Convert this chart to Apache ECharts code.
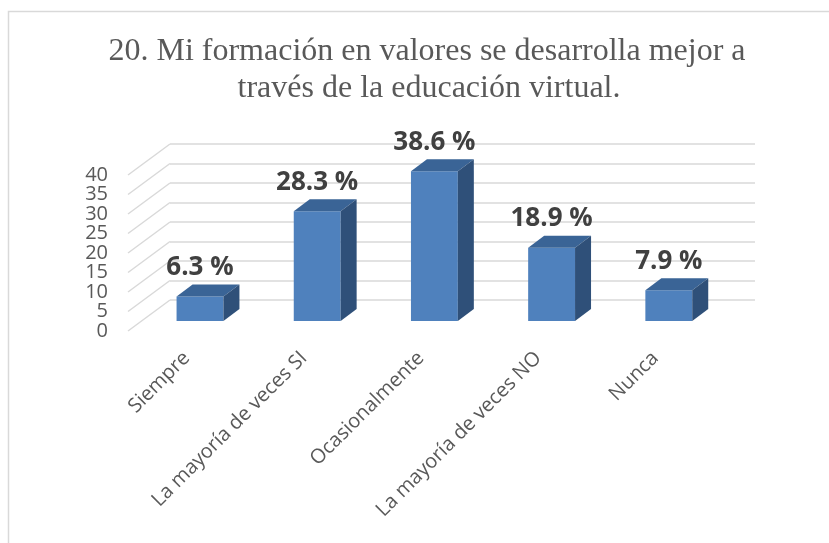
<!DOCTYPE html>
<html>
<head>
<meta charset="utf-8">
<script src="https://cdn.jsdelivr.net/npm/echarts@6/dist/echarts.min.js"></script>
<style>
  html, body { margin: 0; padding: 0; background: #fff; }
  #chart { width: 829px; height: 543px; }
</style>
</head>
<body>
<div id="chart"></div>
<script>
const categories = ['Siempre', 'La mayoría de veces SI', 'Ocasionalmente', 'La mayoría de veces NO', 'Nunca']
const values = [6.3, 28.3, 38.6, 18.9, 7.9]
const yTicks = [0, 5, 10, 15, 20, 25, 30, 35, 40]

const chart = echarts.init(document.getElementById('chart'))

// bar depth offset (3d look)
const DX = 16
const DY = -12

function renderBar(params, api) {
  const idx = api.value(0)
  const top = api.coord([idx, api.value(1)])
  const base = api.coord([idx, 0])
  const w = api.size([1, 0])[0] * 0.4
  const x0 = top[0] - w / 2
  const x1 = top[0] + w / 2
  const yt = top[1]
  const yb = base[1]
  return {
    type: 'group',
    children: [
      { type: 'rect', shape: { x: x0, y: yt, width: w, height: yb - yt }, style: { fill: '#4f81bd' } },
      { type: 'polygon', shape: { points: [[x0, yt], [x0 + DX, yt + DY], [x1 + DX, yt + DY], [x1, yt]] }, style: { fill: '#3a6496' } },
      { type: 'polygon', shape: { points: [[x1, yt], [x1 + DX, yt + DY], [x1 + DX, yb + DY], [x1, yb]] }, style: { fill: '#2f5079' } },
      {
        type: 'text',
        style: {
          x: top[0], y: yt + DY - 4,
          text: api.value(1).toFixed(1) + ' %',
          align: 'center', verticalAlign: 'bottom',
          font: 'bold 26px "Open Sans"', fill: '#404040'
        }
      }
    ]
  }
}

// slanted lines on the left side wall + tick labels at their front end
function renderSide(params, api) {
  const v = api.value(0)
  const p = api.coord([0, v])
  const fx = p[0] - 42
  const fy = p[1] + 31
  return {
    type: 'group',
    children: [
      { type: 'line', shape: { x1: p[0], y1: p[1], x2: fx, y2: fy }, style: { stroke: '#d9d9d9', lineWidth: 1.5 } },
      {
        type: 'text',
        style: {
          x: fx - 20, y: fy, text: String(v),
          align: 'right', verticalAlign: 'middle',
          font: '20px "Open Sans"', fill: '#595959'
        }
      }
    ]
  }
}

chart.setOption({
  animation: false,
  graphic: [
    {
      type: 'rect', silent: true,
      shape: { x: 8.5, y: 11.5, width: 900, height: 600 },
      style: { fill: 'none', stroke: '#d9d9d9', lineWidth: 1.5 }
    },
    {
      type: 'text', silent: true, x: 427, y: 52,
      style: {
        text: '20. Mi formación en valores se desarrolla mejor a',
        align: 'center', verticalAlign: 'middle',
        font: '32px "Liberation Serif"', fill: '#595959'
      }
    },
    {
      type: 'text', silent: true, x: 429, y: 89,
      style: {
        text: 'través de la educación virtual.',
        align: 'center', verticalAlign: 'middle',
        font: '32px "Liberation Serif"', fill: '#595959'
      }
    }
  ],
  grid: [
    { left: 141.4, right: 101.6, top: 165.8, bottom: 222 }, // bars
    { left: 170, right: 74, top: 144, bottom: 243 },         // back wall
    { left: 128, right: 115, top: 175, bottom: 212 }         // front plane
  ],
  xAxis: [
    { gridIndex: 0, type: 'category', data: categories, show: false },
    { gridIndex: 1, type: 'value', min: 0, max: 1, show: false },
    {
      gridIndex: 2, type: 'category', data: categories,
      axisLine: { show: false }, axisTick: { show: false },
      axisLabel: { rotate: 45, margin: 24, fontFamily: 'Open Sans', fontSize: 20, color: '#595959', interval: 0 }
    }
  ],
  yAxis: [
    { gridIndex: 0, type: 'value', min: 0, max: 40, show: false },
    {
      gridIndex: 1, type: 'value', min: 0, max: 40, interval: 5,
      axisLine: { show: false }, axisTick: { show: false }, axisLabel: { show: false },
      splitLine: { lineStyle: { color: '#d9d9d9', width: 1.5 } }
    },
    { gridIndex: 2, type: 'value', min: 0, max: 40, show: false }
  ],
  series: [
    {
      type: 'custom', xAxisIndex: 1, yAxisIndex: 1,
      renderItem: renderSide,
      data: yTicks.map(v => [v])
    },
    {
      type: 'custom', xAxisIndex: 0, yAxisIndex: 0,
      renderItem: renderBar,
      encode: { x: 0, y: 1 },
      data: values.map((v, i) => [i, v]),
      z: 3
    }
  ]
})
</script>
</body>
</html>
